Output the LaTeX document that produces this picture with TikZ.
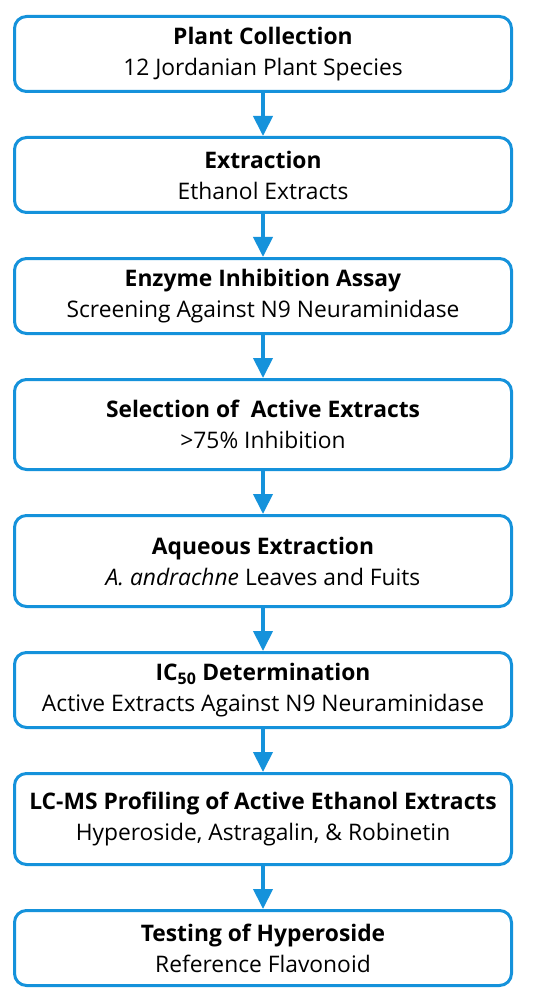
\documentclass[tikz,border=0pt]{standalone}
\usepackage{fontspec}
\setmainfont{Open Sans}
\usetikzlibrary{arrows.meta,positioning}
\definecolor{FlowBlue}{RGB}{21,146,219}

\begin{document}
\begin{tikzpicture}[x=1pt, y=1pt, node distance=43pt,
  every node/.style={font=\fontsize{22.8}{31}\selectfont},
  stepbox/.style={draw=FlowBlue, line width=3pt, rounded corners=12pt, fill=white, minimum width=497pt, minimum height=75pt, align=center, inner sep=2pt},
  flowarrow/.style={-{Triangle[length=20pt, width=19pt]}, line width=4pt, FlowBlue}]
\useasboundingbox (0,0) rectangle (550,-1000);
\node[stepbox] (a) at (263,-54) {\textbf{Plant Collection}\\12 Jordanian Plant Species};
\node[stepbox, below=of a] (b) {\textbf{Extraction}\\Ethanol Extracts};
\node[stepbox, below=of b] (c) {\textbf{Enzyme Inhibition Assay}\\Screening Against N9 Neuraminidase};
\node[stepbox, below=of c, minimum height=90pt] (d) {\textbf{Selection of~ Active Extracts}\\>75\% Inhibition};
\node[stepbox, below=of d, minimum height=91pt] (e) {\textbf{Aqueous Extraction}\\\textit{A. andrachne} Leaves and Fuits};
\node[stepbox, below=of e] (f) {\textbf{IC\textsubscript{50} Determination}\\Active Extracts Against N9 Neuraminidase};
\node[stepbox, below=of f, minimum height=91pt] (g) {\textbf{LC-MS Profiling of Active Ethanol Extracts}\\Hyperoside, Astragalin, \& Robinetin};
\node[stepbox, below=of g] (h) {\textbf{Testing of Hyperoside}\\Reference Flavonoid};
\draw[flowarrow] (a) -- (b);
\draw[flowarrow] (b) -- (c);
\draw[flowarrow] (c) -- (d);
\draw[flowarrow] (d) -- (e);
\draw[flowarrow] (e) -- (f);
\draw[flowarrow] (f) -- (g);
\draw[flowarrow] (g) -- (h);
\end{tikzpicture}
\end{document}
